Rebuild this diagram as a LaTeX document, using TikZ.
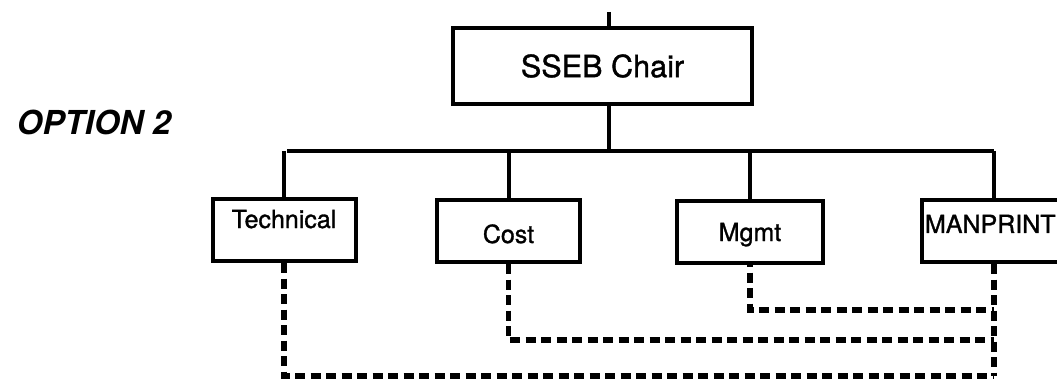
\documentclass[tikz,border=0pt]{standalone}
\usepackage{fontspec}
\setmainfont{TeX Gyre Heros}
\newfontfamily\lblfont{TeX Gyre Heros}[FakeBold=1.2]
\usetikzlibrary{positioning,calc}
\tikzset{
  orgblk/.style={draw,rectangle,line width=4pt,inner sep=1pt,align=center,font=\lblfont\fontsize{25}{30}\selectfont},
  chairblk/.style={orgblk,minimum width=299pt,minimum height=76pt,font=\lblfont\fontsize{30.6}{36}\selectfont},
  subblk/.style={orgblk,minimum width=143pt,minimum height=62pt,text height=18pt,text depth=0pt},
  lnk/.style={line width=4pt},
  dlnk/.style={line width=5.5pt,dash pattern=on 10pt off 5.5pt},
  ttl/.style={font=\fontsize{33}{38}\selectfont\bfseries\itshape}
}

\begin{document}
\begin{tikzpicture}[x=1pt,y=-1pt]
  \clip (0,0) rectangle (1057,382);
  % Title
  \node[ttl] (opt) at (94,122) {OPTION 2};

  % Chair and its feed line
  \node[chairblk] (chair) at (602.5,66) {SSEB Chair};
  \coordinate (top) at (609,12);
  \draw[lnk] (top) -- (top |- chair.north);

  % Bus
  \coordinate (busL) at (287,151);
  \coordinate (busR) at (994,151);
  \draw[lnk] (top |- chair.south) -- (top |- busL);
  \draw[lnk] (busL) -- (busR);

  % Evaluation boxes
  \node[subblk, text depth=22pt] (tech) at (284,230) {Technical};
  \node[subblk, text height=24pt] (cost) at (508.5,231) {Cost};
  \node[subblk, minimum width=146pt] (mgmt) at (750,232) {Mgmt};
  \node[subblk, text depth=14pt, anchor=west, align=left, text width=150pt, inner xsep=3pt] (manp) at (920,231) {MANPRINT};

  % Drops from bus
  \foreach \n in {tech,cost,mgmt}
    \draw[lnk] (\n.north |- busL) -- (\n.north);
  \draw[lnk] (busR) -- (busR |- manp.north);

  % Dashed links to MANPRINT
  \coordinate (mgY) at (0,310);
  \coordinate (coY) at (0,340);
  \coordinate (teY) at (0,376);
  \draw[dlnk] (manp.south -| busR) -- (busR |- teY);
  \draw[dlnk, dash phase=8pt] (mgmt.south) -- (mgmt.south |- mgY) -- (busR |- mgY);
  \draw[dlnk] (cost.south) -- (cost.south |- coY) -- (busR |- coY);
  \draw[dlnk] (tech.south) -- (tech.south |- teY) -- (busR |- teY);

\end{tikzpicture}
\end{document}
